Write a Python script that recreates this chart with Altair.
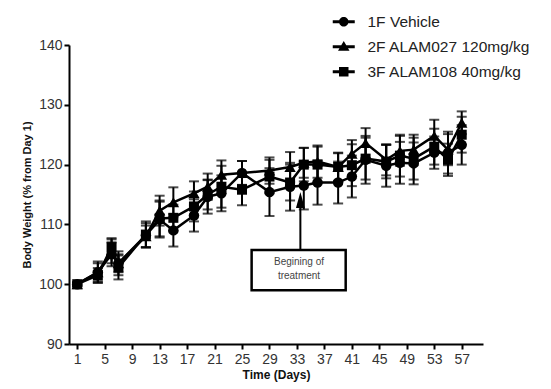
import altair as alt
import pandas as pd

# ---------------- data ----------------
days = [1, 4, 6, 7, 11, 13, 15, 18, 20, 22, 25, 29, 32, 34, 36, 39, 41, 43, 46, 48, 50, 53, 55, 57]
series_names = ["1F Vehicle", "2F ALAM027 120mg/kg", "3F ALAM108 40mg/kg"]

vehicle_mean = [100, 102.0, 105.0, 103.5, 108.2, 110.8, 109.0, 111.5, 114.6, 115.2, 118.6, 115.4,
                116.3, 116.5, 117.0, 117.0, 118.0, 120.8, 119.8, 120.3, 120.2, 122.0, 122.0, 123.3]
vehicle_sem = [0.3, 1.5, 2.0, 2.0, 2.0, 3.0, 2.7, 2.7, 2.8, 3.0, 2.0, 4.0,
               4.0, 4.0, 3.7, 3.5, 3.5, 4.0, 3.5, 3.5, 3.5, 2.7, 3.5, 3.3]

alam027_mean = [100, 102.0, 105.5, 103.5, 108.0, 112.3, 113.7, 115.2, 116.3, 118.3, 118.6, 119.0,
                119.6, 120.3, 120.5, 119.6, 121.8, 123.6, 120.8, 122.3, 122.5, 124.8, 122.5, 127.0]
alam027_sem = [0.3, 1.8, 2.0, 1.5, 1.8, 2.5, 2.5, 2.0, 2.2, 2.4, 2.0, 2.2,
               2.5, 2.5, 2.7, 2.3, 2.3, 2.5, 2.6, 2.5, 2.5, 2.7, 2.6, 1.9]

alam108_mean = [100, 101.5, 106.2, 102.8, 108.3, 111.0, 111.1, 113.0, 115.0, 116.3, 115.8, 118.0,
                117.0, 120.0, 120.0, 119.6, 119.9, 121.0, 120.5, 121.5, 121.0, 123.0, 120.8, 125.0]
alam108_sem = [0.3, 1.2, 1.5, 2.0, 2.2, 3.0, 2.2, 2.5, 2.5, 3.5, 2.6, 2.8,
               3.0, 2.8, 3.0, 2.4, 3.5, 3.5, 2.8, 3.5, 3.5, 3.0, 2.7, 3.0]

x_ticks = list(range(1, 58, 4))
y_ticks = [90, 100, 110, 120, 130, 140]

arrow_day = 33.5
arrow_from = 105.7
arrow_to = 113.0
arrow_head = 114.1
box_x = [26.4, 40.1]
box_y = [99.0, 105.7]
note_lines = ["Begining of", "treatment"]
note_y = [103.7, 101.3]
note_x = 33.3

# ---------------- frames ----------------
rows = []
for name, m, s in [(series_names[0], vehicle_mean, vehicle_sem),
                   (series_names[1], alam027_mean, alam027_sem),
                   (series_names[2], alam108_mean, alam108_sem)]:
    for d, mv, sv in zip(days, m, s):
        rows.append({"day": d, "series": name, "mean": mv, "lo": mv - sv, "hi": mv + sv})
df = pd.DataFrame(rows)

xs = alt.Scale(domain=[-0.2, 60.1], nice=False, zero=False)
ys = alt.Scale(domain=[90, 140], nice=False, zero=False)

x_axis = alt.Axis(values=x_ticks, title="Time (Days)", titleFontSize=12,
                  labelPadding=3, titlePadding=3, labelOverlap=False)
y_axis = alt.Axis(values=y_ticks, title="Body Weight (% from Day 1)", titleFontSize=11,
                  labelPadding=2, titlePadding=6, labelOverlap=False)


def X(field):
    return alt.X(field, scale=xs, axis=x_axis)


def Y(field):
    return alt.Y(field, scale=ys, axis=y_axis)


base = alt.Chart(df)

lines = base.mark_line(color="black", strokeWidth=2.5).encode(
    x=X("day:Q"), y=Y("mean:Q"), detail="series:N")
err = base.mark_rule(color="black", strokeWidth=2).encode(
    x=X("day:Q"), y=Y("lo:Q"), y2="hi:Q")
cap_lo = base.mark_tick(color="black", orient="horizontal", size=10, thickness=2).encode(
    x=X("day:Q"), y=Y("lo:Q"))
cap_hi = base.mark_tick(color="black", orient="horizontal", size=10, thickness=2).encode(
    x=X("day:Q"), y=Y("hi:Q"))

pt_shapes = ["circle", "triangle-up", "square"]
pt_sizes = [110, 130, 100]
points = []
for name, shp, sz in zip(series_names, pt_shapes, pt_sizes):
    points.append(
        base.transform_filter(alt.datum.series == name)
        .mark_point(shape=shp, size=sz, filled=True, color="black", opacity=1)
        .encode(x=X("day:Q"), y=Y("mean:Q"))
    )

bar_path = "M-2.2,-0.3H2.2V0.3H-2.2Z "
legend_paths = [
    bar_path + "M0,-0.95A0.95,0.95 0 1,1 0,0.95A0.95,0.95 0 1,1 0,-0.95Z",
    bar_path + "M0,-1.15L1.15,0.8H-1.15Z",
    bar_path + "M-0.95,-0.95H0.95V0.95H-0.95Z",
]
legend_layer = base.mark_point(filled=True, color="black", opacity=0).encode(
    x=X("day:Q"), y=Y("mean:Q"),
    shape=alt.Shape("series:N",
                    scale=alt.Scale(domain=series_names, range=legend_paths),
                    legend=alt.Legend(title=None, orient="none", legendX=267, legendY=-31,
                                      symbolSize=100, labelFontSize=15.5, labelOffset=16,
                                      rowPadding=8, padding=0, symbolOpacity=1, labelLimit=0,
                                      symbolFillColor="black", symbolStrokeWidth=0,
                                      labelColor="#222", labelFont="Liberation Sans")),
)

# annotation
ann = pd.DataFrame({"x": [arrow_day], "y1": [arrow_from], "y2": [arrow_to], "yh": [arrow_head]})
arrow = alt.Chart(ann).mark_rule(color="black", strokeWidth=2).encode(
    x=X("x:Q"), y=Y("y1:Q"), y2="y2:Q")
head = alt.Chart(ann).mark_point(shape="M0,-1L0.55,1H-0.55Z", size=256, filled=True,
                                 color="black", opacity=1).encode(x=X("x:Q"), y=Y("yh:Q"))
box_df = pd.DataFrame({"x": [box_x[0]], "x2": [box_x[1]], "y": [box_y[0]], "y2": [box_y[1]]})
box = alt.Chart(box_df).mark_rect(fill="white", stroke="black", strokeWidth=2.5).encode(
    x=X("x:Q"), x2="x2:Q", y=Y("y:Q"), y2="y2:Q")
note_df = pd.DataFrame({"x": [note_x] * len(note_lines), "y": note_y, "t": note_lines})
note = alt.Chart(note_df).mark_text(font="Liberation Sans", fontSize=10, color="#444",
                                    align="center", baseline="middle").encode(
    x=X("x:Q"), y=Y("y:Q"), text="t:N")

chart = alt.layer(lines, err, cap_lo, cap_hi, *points, legend_layer, arrow, head, box, note).properties(
    width=414, height=299,
    autosize=alt.AutoSizeParams(type="none"),
    padding={"left": 61, "top": 37, "right": 60, "bottom": 38},
).configure_view(stroke=None).configure_axis(
    grid=False, domainColor="black", domainWidth=2, tickColor="black", tickWidth=2, tickSize=5,
    labelFont="Liberation Sans", labelFontSize=14, labelColor="#333", labelOverlap=False,
    titleFont="Liberation Sans", titleFontWeight="bold", titleColor="#111",
).configure_legend(symbolOpacity=1)

chart.save("out.html", embed_options={"renderer": "svg", "actions": False})
